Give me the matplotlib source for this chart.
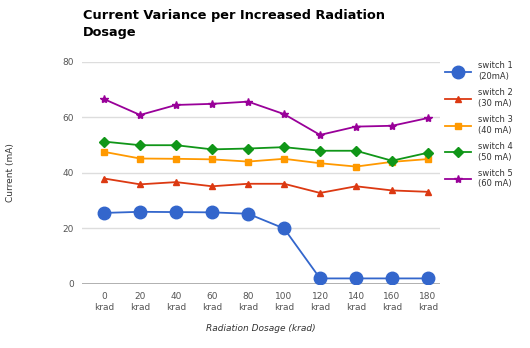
import matplotlib
matplotlib.use("Agg")
import matplotlib.pyplot as plt

doses = ["0\nkrad", "20\nkrad", "40\nkrad", "60\nkrad", "80\nkrad",
         "100\nkrad", "120\nkrad", "140\nkrad", "160\nkrad", "180\nkrad"]

switch1 = [25.6, 26.0, 25.9, 25.8, 25.3, 20.0, 2.0, 2.0, 2.0, 2.0]
switch2 = [38.0, 35.9, 36.7, 35.2, 36.1, 36.1, 32.8, 35.2, 33.7, 33.2]
switch3 = [47.6, 45.2, 45.1, 44.9, 44.1, 45.1, 43.5, 42.3, 44.0, 45.0]
switch4 = [51.3, 50.0, 50.0, 48.5, 48.8, 49.3, 48.0, 48.0, 44.4, 47.3]
switch5 = [66.6, 60.9, 64.5, 64.9, 65.7, 61.2, 53.7, 56.7, 57.0, 59.8]

labels = ["switch 1\n(20mA)", "switch 2\n(30 mA)", "switch 3\n(40 mA)",
          "switch 4\n(50 mA)", "switch 5\n(60 mA)"]

series = [switch1, switch2, switch3, switch4, switch5]
colors = ["#3366cc", "#dc3912", "#ff9900", "#109618", "#990099"]
markers = ["o", "^", "s", "D", "*"]
sizes = [9, 5, 5, 5, 6]

fig = plt.figure(figsize=(5.3, 3.48), dpi=100)
ax = fig.add_axes([0.155, 0.184, 0.675, 0.638])

x = list(range(len(doses)))
for vals, lab, c, m, s in zip(series, labels, colors, markers, sizes):
    ax.plot(x, vals, color=c, marker=m, markersize=s, linewidth=1.3, label=lab)

ax.set_xlim(-0.61, 9.33)
ax.set_ylim(0, 80)
ax.set_yticks([0, 20, 40, 60, 80])
ax.set_xticks(x)
ax.set_xticklabels(doses)
ax.tick_params(length=0, labelsize=6.5, colors="#555555", pad=6)
ax.grid(axis="y", color="#dddddd", linewidth=1)
ax.set_axisbelow(True)
for side in ["top", "right", "left", "bottom"]:
    ax.spines[side].set_visible(False)
ax.axhline(0, color="#aaaaaa", linewidth=2, zorder=1)

ax.set_xlabel("Radiation Dosage (krad)", fontsize=6.5, style="italic",
              color="#333333", labelpad=9)
ax.set_ylabel("Current (mA)", fontsize=6.5, color="#333333", labelpad=34)

fig.text(0.157, 0.93, "Current Variance per Increased Radiation\nDosage",
         fontsize=9.3, fontweight="bold", color="#000000", va="center", ha="left",
         linespacing=1.4)

fig.legend(loc="upper left", bbox_to_anchor=(0.825, 0.845), frameon=False,
           fontsize=6, labelspacing=0.9, handlelength=3.2, handletextpad=0.8,
           labelcolor="#333333")

fig.savefig("out.png", dpi=100)
